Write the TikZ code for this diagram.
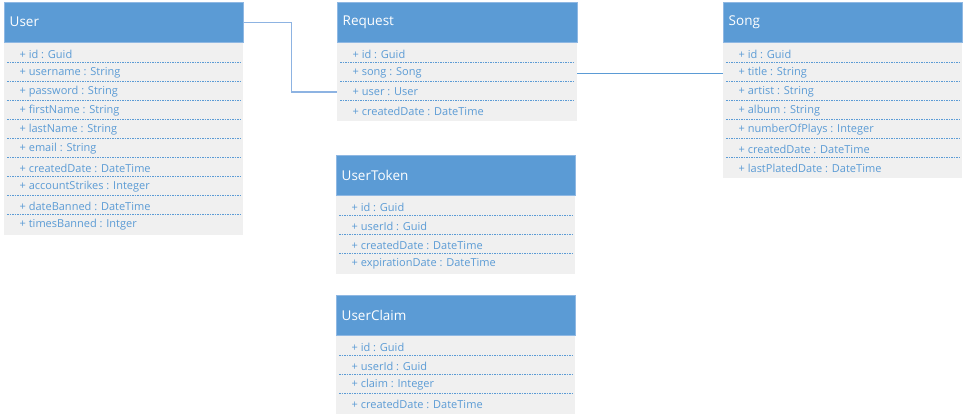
\documentclass[tikz,border=0pt]{standalone}
\usepackage{fontspec}
\setmainfont{Open Sans}
\definecolor{hdr}{HTML}{5B9BD5}
\definecolor{hdredge}{HTML}{8FB8E3}
\definecolor{bodyfill}{HTML}{F0F0F0}
\definecolor{attrc}{HTML}{5B9BD5}
\definecolor{linkc}{HTML}{8DB3E2}
\definecolor{linkd}{HTML}{5B9BD5}
\tikzset{
  headbox/.style={fill=hdr, draw=hdredge, line width=0.8pt, minimum height=40pt, anchor=north west, inner sep=0pt},
  bodybox/.style={fill=bodyfill},
  titletext/.style={font=\fontsize{13.5}{15}\selectfont, text=white, anchor=west, inner sep=0pt},
  attr/.style={font=\fontsize{11}{13}\selectfont, text=attrc, anchor=west, inner sep=0pt},
  sepline/.style={draw=attrc, line width=0.6pt, dash pattern=on 1.5pt off 1pt},
  linkA/.style={draw=linkc, line width=1.3pt},
  linkB/.style={draw=linkd, line width=0.9pt},
}
\newcommand\umlclass[7]{% name, x, y, w, title, n, rows
  \fill[bodybox] (#2,#3+40) rectangle (#2+#4,#3+43+19*#6);
  \node[headbox, minimum width=#4pt] (#1) at (#2,#3) {};
  \node[titletext] (#1-title) at (#2+5.5,#3+20) {#5};
  \foreach \t [count=\i] in {#7} {
    \pgfmathsetmacro\yc{#3+41+19*(\i-1)+11}
    \node[attr] (#1-\i) at (#2+15.5,\yc) {\t};
    \coordinate (#1-\i w) at (#2,\yc);
    \coordinate (#1-\i e) at (#2+#4,\yc);
    \ifnum\i<#6 \draw[sepline] (#2+3,#3+41+19*\i) -- (#2+#4-3,#3+41+19*\i); \fi
  }
}
\begin{document}
\begin{tikzpicture}[x=1pt,y=-1pt]
  \useasboundingbox (0,0) rectangle (963,419);
  \umlclass{User}{4}{2}{239}{User}{10}{+ id : Guid, + username : String, + password : String, + firstName : String, + lastName : String, + email : String, + createdDate : DateTime, + accountStrikes : Integer, + dateBanned : DateTime, + timesBanned : Intger}
  \umlclass{Request}{337}{2}{240}{Request}{4}{+ id : Guid, + song : Song, + user : User, + createdDate : DateTime}
  \umlclass{Song}{723}{2}{239}{Song}{7}{+ id : Guid, + title : String, + artist : String, + album : String, + numberOfPlays : Integer, + createdDate : DateTime, + lastPlatedDate : DateTime}
  \umlclass{UserToken}{336}{155}{239}{UserToken}{4}{+ id : Guid, + userId : Guid, + createdDate : DateTime, + expirationDate : DateTime}
  \umlclass{UserClaim}{336}{295}{239}{UserClaim}{4}{+ id : Guid, + userId : Guid, + claim : Integer, + createdDate : DateTime}
  \draw[linkA] (User.east) -- ++(48,0) |- (Request-3w);
  \draw[linkB] (Request-2e) -- (Song-2w);
\end{tikzpicture}
\end{document}
